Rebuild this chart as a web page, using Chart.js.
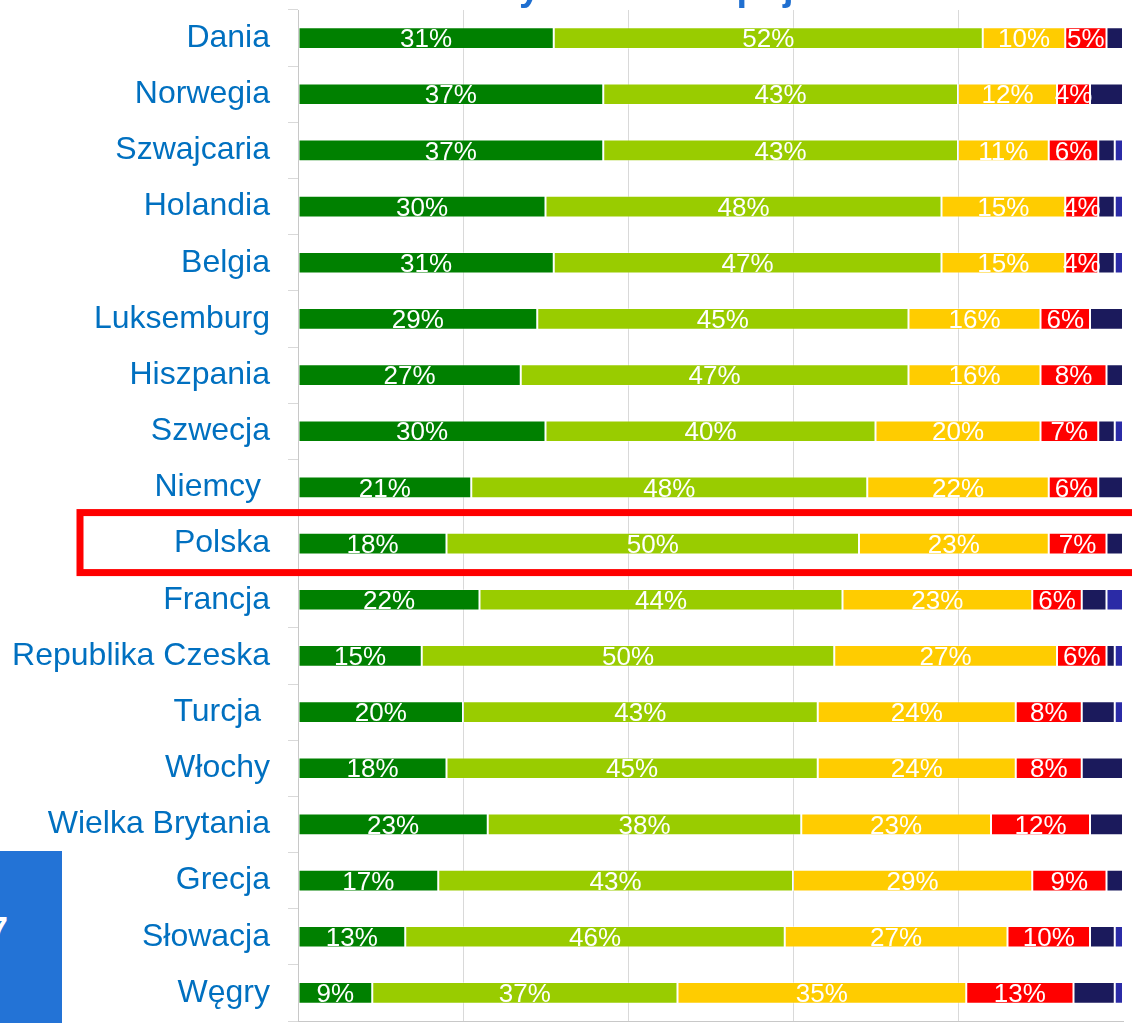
<!DOCTYPE html>
<html>
<head>
<meta charset="utf-8">
<script src="https://cdn.jsdelivr.net/npm/chart.js@4"></script>
<style>
  html, body { margin: 0; padding: 0; background: #fff; overflow: hidden; }
  #wrap { position: relative; width: 1132px; height: 1023px; }
  #title { position: absolute; left: 424px; top: -34px; line-height: 38px;
           font: bold 38px "Liberation Sans", Arial, sans-serif; color: #1f6fd0; white-space: nowrap; }
  #slideNo { position: absolute; left: 0; top: 851px; width: 62px; height: 172px; background: #2373d6; overflow: hidden; }
  #slideNo span { position: absolute; right: 54px; top: 58px; font: bold 35px "Liberation Sans", Arial, sans-serif; color: #fff; }
</style>
</head>
<body>
<div id="wrap">
  <canvas id="myChart" width="1132" height="1023"></canvas>
  <div id="title">Oceny zdrowia: spojrzenie mieszkańców</div>
  <div id="slideNo"><span>17</span></div>
</div>
<script>
var categories = ['Dania', 'Norwegia', 'Szwajcaria', 'Holandia', 'Belgia', 'Luksemburg', 'Hiszpania', 'Szwecja', 'Niemcy ',
    'Polska', 'Francja', 'Republika Czeska', 'Turcja ', 'Włochy', 'Wielka Brytania', 'Grecja', 'Słowacja', 'Węgry'];

// shares in %
var veryGood = [31, 37, 37, 30, 31, 29, 27, 30, 21, 18, 22, 15, 20, 18, 23, 17, 13, 9];
var good     = [52, 43, 43, 48, 47, 45, 47, 40, 48, 50, 44, 50, 43, 45, 38, 43, 46, 37];
var neutral  = [10, 12, 11, 15, 15, 16, 16, 20, 22, 23, 23, 27, 24, 24, 23, 29, 27, 35];
var bad      = [5, 4, 6, 4, 4, 6, 8, 7, 6, 7, 6, 6, 8, 8, 12, 9, 10, 13];
var veryBad  = [2, 4, 2, 2, 2, 4, 2, 2, 3, 2, 3, 1, 4, 5, 4, 2, 3, 5];
var noAnswer = [0, 0, 1, 1, 1, 0, 0, 1, 0, 0, 2, 1, 1, 0, 0, 0, 1, 1];

var xTicks = [0, 20, 40, 60, 80, 100];
var highlighted = 'Polska';

var FONT = '"Liberation Sans", Arial, sans-serif';

// white % labels in the middle of the first four segments
var segmentLabels = {
    id: 'segmentLabels',
    afterDatasetsDraw: function (chart) {
        var c = chart.ctx;
        c.save();
        c.fillStyle = '#ffffff';
        c.font = '26px ' + FONT;
        c.textAlign = 'center';
        c.textBaseline = 'middle';
        chart.data.datasets.forEach(function (ds, i) {
            if (i > 3) return;
            chart.getDatasetMeta(i).data.forEach(function (bar, j) {
                c.fillText(ds.data[j] + '%', (bar.x + bar.base) / 2, bar.y + 2);
            });
        });
        c.restore();
    }
};

// red frame round the highlighted country
var highlightBox = {
    id: 'highlightBox',
    afterDraw: function (chart) {
        var y = chart.scales.y.getPixelForValue(categories.indexOf(highlighted));
        var c = chart.ctx;
        c.save();
        c.strokeStyle = '#ff0000';
        c.lineWidth = 7;
        c.strokeRect(80, y - 31, 1080, 60);
        c.restore();
    }
};

function series(label, data, color) {
    return {
        label: label,
        data: data,
        backgroundColor: color,
        borderColor: 'rgba(255,255,255,0.35)',
        borderWidth: 1,
        borderSkipped: false,
        barPercentage: 0.385,
        categoryPercentage: 1
    };
}

var ctx = document.getElementById('myChart').getContext('2d');
var myChart = new Chart(ctx, {
    type: 'bar',
    data: {
        labels: categories,
        datasets: [
            series('Bardzo dobrze', veryGood, '#008000'),
            series('Dobrze', good, '#99cc00'),
            series('Przeciętnie', neutral, '#ffcc00'),
            series('Źle', bad, '#ff0000'),
            series('Bardzo źle', veryBad, '#1b1a5c'),
            series('Brak odpowiedzi', noAnswer, '#2b2ba6')
        ]
    },
    options: {
        indexAxis: 'y',
        responsive: false,
        animation: false,
        layout: { padding: { top: 10, right: 9, bottom: 0, left: 0 } },
        scales: {
            x: {
                stacked: true,
                min: 0,
                max: 100,
                afterBuildTicks: function (s) { s.ticks = xTicks.map(function (v) { return { value: v }; }); },
                afterFit: function (s) { s.height = 2; s.paddingLeft = 0; s.paddingRight = 0; },
                ticks: { display: false },
                grid: {
                    drawTicks: false,
                    color: function (c) { return c.tick && c.tick.value === 100 ? 'rgba(0,0,0,0)' : '#d9d9d9'; }
                },
                border: { color: '#c8c8c8' }
            },
            y: {
                stacked: true,
                // fixed label column, and no extra room for the end labels
                afterFit: function (s) { s.width = 298; s.paddingTop = 0; s.paddingBottom = 0; },
                ticks: {
                    color: '#0070c0',
                    font: { family: FONT, size: 32 },
                    padding: 18
                },
                grid: {
                    drawOnChartArea: false,
                    tickLength: 10,
                    color: '#d9d9d9'
                },
                border: { color: '#c8c8c8' }
            }
        },
        plugins: {
            legend: { display: false },
            tooltip: { enabled: false }
        }
    },
    plugins: [segmentLabels, highlightBox]
});
</script>
</body>
</html>
